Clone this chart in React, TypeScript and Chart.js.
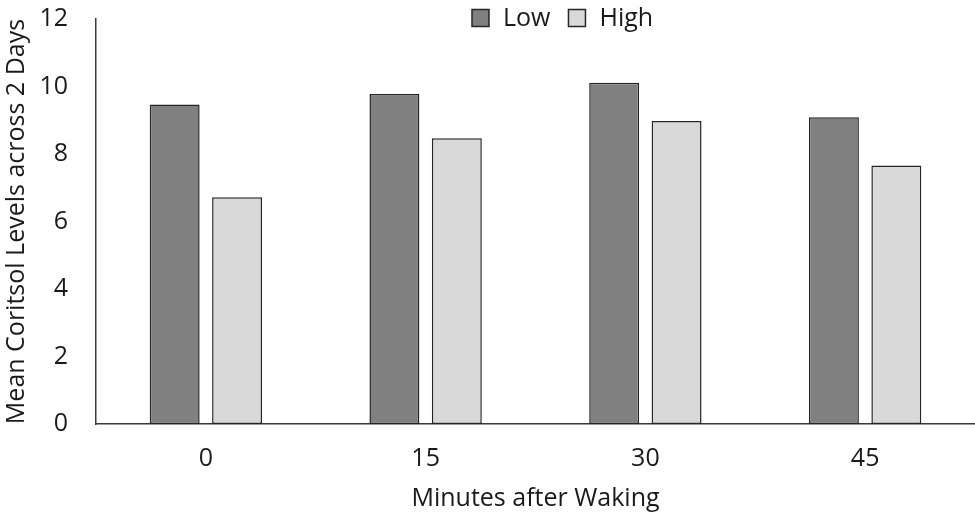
import React, { useEffect, useRef } from "react";
import { Chart, registerables } from "chart.js";

Chart.register(...registerables);

const categories = ["0", "15", "30", "45"];
const lowValues = [9.47, 9.78, 10.11, 9.09];
const highValues = [6.72, 8.47, 8.98, 7.66];
const seriesNames = ["Low", "High"];
const yTicksMax = 12;
const yTicksStep = 2;
const xTitle = "Minutes after Waking";
const yTitle = "Mean Coritsol Levels across 2 Days";

const FONT = "'Open Sans', sans-serif";
const FS = 25;
const LOW_COLOR = "#808080";
const HIGH_COLOR = "#d9d9d9";
const BORDER = "#262626";
const TEXT = "#1a1a1a";

const legendPlugin = {
  id: "customLegend",
  afterDraw(chart: any) {
    const ctx = chart.ctx;
    ctx.save();
    ctx.font = `${FS}px ${FONT}`;
    ctx.textBaseline = "middle";
    ctx.textAlign = "left";
    const items = chart.data.datasets.map((d: any) => ({
      label: d.label,
      color: d.backgroundColor,
    }));
    let x = 472;
    const cy = 18;
    const box = 17;
    items.forEach((it: any) => {
      ctx.fillStyle = it.color;
      ctx.fillRect(x, cy - box / 2, box, box);
      ctx.lineWidth = 1.5;
      ctx.strokeStyle = BORDER;
      ctx.strokeRect(x, cy - box / 2, box, box);
      ctx.fillStyle = TEXT;
      ctx.fillText(it.label, x + 31, cy + 1);
      x += 31 + ctx.measureText(it.label).width + 18;
    });
    ctx.restore();
  },
};

export default function App() {
  const ref = useRef<HTMLCanvasElement | null>(null);
  useEffect(() => {
    document.body.style.margin = "0";
    const chart = new Chart(ref.current as HTMLCanvasElement, {
      type: "bar",
      data: {
        labels: categories,
        datasets: [
          {
            label: seriesNames[0],
            data: lowValues,
            backgroundColor: LOW_COLOR,
            borderColor: BORDER,
            borderWidth: 1.5,
            borderSkipped: false,
          },
          {
            label: seriesNames[1],
            data: highValues,
            backgroundColor: HIGH_COLOR,
            borderColor: BORDER,
            borderWidth: 1.5,
            borderSkipped: false,
          },
        ],
      },
      options: {
        animation: false,
        responsive: false,
        maintainAspectRatio: false,
        datasets: {
          bar: { categoryPercentage: 0.568, barPercentage: 0.8 },
        },
        layout: { padding: { top: 19, right: 0, left: 0, bottom: 0 } },
        plugins: {
          legend: { display: false },
          tooltip: { enabled: false },
        },
        scales: {
          x: {
            grid: { display: false, drawTicks: false },
            border: { display: true, color: "#3a3a3a", width: 1.5 },
            ticks: {
              padding: 20,
              color: TEXT,
              font: { family: FONT, size: FS },
            },
            title: {
              display: true,
              text: xTitle,
              color: TEXT,
              font: { family: FONT, size: FS },
              padding: { top: 0, bottom: 3 },
            },
            afterFit: (s: any) => {
              s.height = 93;
              s.paddingLeft = 0;
              s.paddingRight = 0;
            },
          },
          y: {
            min: 0,
            max: yTicksMax,
            grid: { display: false, drawTicks: false },
            border: { display: true, color: "#3a3a3a", width: 1.5 },
            ticks: {
              stepSize: yTicksStep,
              padding: 28,
              color: TEXT,
              font: { family: FONT, size: FS },
            },
            title: {
              display: true,
              text: yTitle,
              color: TEXT,
              font: { family: FONT, size: FS },
              padding: { top: 2, bottom: 0 },
            },
            afterFit: (s: any) => {
              s.width = 96;
              s.paddingTop = 0;
              s.paddingBottom = 0;
            },
          },
        },
      },
      plugins: [legendPlugin],
    });
    return () => chart.destroy();
  }, []);
  return (
    <div style={{ width: 975, height: 517 }}>
      <canvas ref={ref} width={975} height={517} />
    </div>
  );
}
